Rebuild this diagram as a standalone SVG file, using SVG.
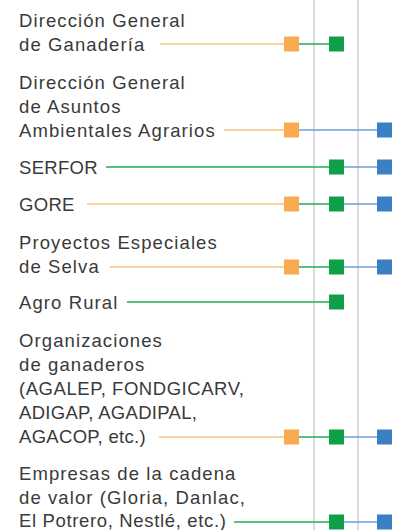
<svg xmlns="http://www.w3.org/2000/svg" width="400" height="530" viewBox="0 0 400 530">
<style>
text{font-family:"Liberation Sans",Arial,sans-serif;font-size:18.5px;fill:#3a3a3a;letter-spacing:1.1px}
text.c{letter-spacing:0.3px}
.g{stroke:#cfcfcf;stroke-width:1.5}
.lo{stroke:#f8c07c;stroke-width:1.5;fill:none}
.lg{stroke:#27a85a;stroke-width:1.5;fill:none}
.lb{stroke:#6a9fd6;stroke-width:1.5;fill:none}
.so{fill:#f9aa4e}
.sg{fill:#0f9f48}
.sb{fill:#3b7fc4}
</style>
<rect width="400" height="530" fill="#ffffff"/>
<g id="gridlines">
<line class="g" x1="314" y1="0" x2="314" y2="530"/>
<line class="g" x1="358" y1="0" x2="358" y2="530"/>
</g>
<g id="connectors">
<line class="lo" x1="160" y1="44" x2="285" y2="44"/><line class="lg" x1="298" y1="44" x2="330" y2="44"/>
<line class="lo" x1="224" y1="130" x2="285" y2="130"/><line class="lb" x1="298" y1="130" x2="378" y2="130"/>
<line class="lg" x1="106" y1="167" x2="330" y2="167"/><line class="lb" x1="343" y1="167" x2="378" y2="167"/>
<line class="lo" x1="87" y1="204" x2="285" y2="204"/><line class="lg" x1="298" y1="204" x2="330" y2="204"/><line class="lb" x1="343" y1="204" x2="378" y2="204"/>
<line class="lo" x1="110" y1="267" x2="285" y2="267"/><line class="lg" x1="298" y1="267" x2="330" y2="267"/><line class="lb" x1="343" y1="267" x2="378" y2="267"/>
<line class="lg" x1="127" y1="302" x2="330" y2="302"/>
<line class="lo" x1="159" y1="437" x2="285" y2="437"/><line class="lg" x1="298" y1="437" x2="330" y2="437"/><line class="lb" x1="343" y1="437" x2="378" y2="437"/>
<line class="lg" x1="234" y1="522" x2="330" y2="522"/><line class="lb" x1="343" y1="522" x2="378" y2="522"/>
</g>
<g id="n1"><text x="19" y="27">Dirección General</text><text x="19" y="50.5">de Ganadería</text>
<rect class="so" x="284" y="36.5" width="15" height="15"/><rect class="sg" x="329" y="36.5" width="15" height="15"/></g>
<g id="n2"><text x="19" y="89">Dirección General</text><text x="19" y="112.5">de Asuntos</text><text x="19" y="136.5">Ambientales Agrarios</text>
<rect class="so" x="284" y="122.5" width="15" height="15"/><rect class="sb" x="377" y="122.5" width="15" height="15"/></g>
<g id="n3"><text class="c" x="19" y="173.5">SERFOR</text>
<rect class="sg" x="329" y="159.5" width="15" height="15"/><rect class="sb" x="377" y="159.5" width="15" height="15"/></g>
<g id="n4"><text class="c" x="19" y="210.5">GORE</text>
<rect class="so" x="284" y="196.5" width="15" height="15"/><rect class="sg" x="329" y="196.5" width="15" height="15"/><rect class="sb" x="377" y="196.5" width="15" height="15"/></g>
<g id="n5"><text x="19" y="249">Proyectos Especiales</text><text x="19" y="273">de Selva</text>
<rect class="so" x="284" y="259.5" width="15" height="15"/><rect class="sg" x="329" y="259.5" width="15" height="15"/><rect class="sb" x="377" y="259.5" width="15" height="15"/></g>
<g id="n6"><text x="19" y="308.5">Agro Rural</text>
<rect class="sg" x="329" y="294.5" width="15" height="15"/></g>
<g id="n7"><text x="19" y="347">Organizaciones</text><text x="19" y="371">de ganaderos</text><text x="19" y="395" style="letter-spacing:0.55px">(AGALEP, FONDGICARV,</text><text class="c" x="19" y="419">ADIGAP, AGADIPAL,</text><text class="c" x="19" y="443">AGACOP, etc.)</text>
<rect class="so" x="284" y="429.5" width="15" height="15"/><rect class="sg" x="329" y="429.5" width="15" height="15"/><rect class="sb" x="377" y="429.5" width="15" height="15"/></g>
<g id="n8"><text x="19" y="480">Empresas de la cadena</text><text x="19" y="504">de valor (Gloria, Danlac,</text><text x="19" y="526.5" style="letter-spacing:0.65px">El Potrero, Nestlé, etc.)</text>
<rect class="sg" x="329" y="514.5" width="15" height="15"/><rect class="sb" x="377" y="514.5" width="15" height="15"/></g>
</svg>
